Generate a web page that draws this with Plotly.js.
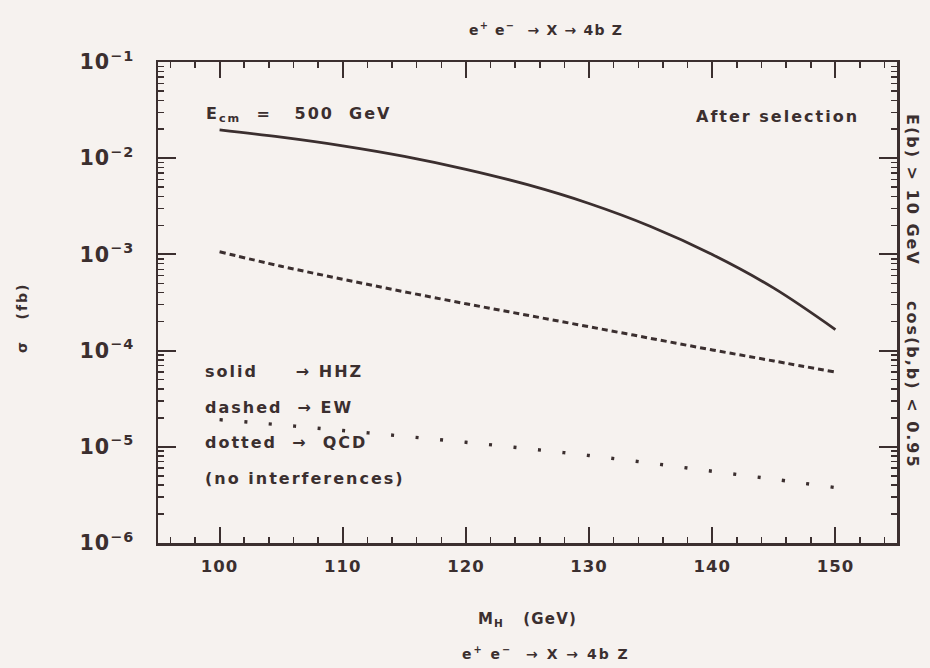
<!DOCTYPE html>
<html>
<head>
<meta charset="utf-8">
<script src="https://cdn.plot.ly/plotly-3.0.1.min.js"></script>
<style>
  html, body { margin: 0; padding: 0; background: #f6f2ef; }
  #chart { width: 930px; height: 668px; }
  .annotation-text { letter-spacing: 2px; }
  .gtitle, .xtitle, .ytitle { letter-spacing: 1.2px; }
  .xtick text, .ytick text { letter-spacing: 1px; }
</style>
</head>
<body>
<div id="chart"></div>
<script>
// Higgs mass (GeV)
const massH = [100, 105, 110, 115, 120, 125, 130, 135, 140, 145, 150];
// cross sections (fb)
const sigmaHHZ = [0.01968, 0.01656, 0.01346, 0.01045, 0.00766, 0.00530, 0.00338, 0.00195, 0.000998, 0.000446, 0.0001656];
const sigmaEW  = [0.001064, 0.000753, 0.000552, 0.000409, 0.000307, 0.000233, 0.000177, 0.000134, 0.0001016, 0.0000780, 0.0000598];
const sigmaQCD = [0.00001914, 0.00001687, 0.00001476, 0.00001285, 0.00001114, 0.00000957, 0.00000811, 0.00000675, 0.00000557, 0.00000460, 0.00000377];

const ink = '#3b2f2f';
const fontMain = 'DejaVu Sans, Arial, sans-serif';

const traces = [
  {x: massH, y: sigmaHHZ, mode: 'lines', name: 'HHZ', line: {color: ink, width: 2.8, shape: 'spline', smoothing: 1}},
  {x: massH, y: sigmaEW, mode: 'lines', name: 'EW', line: {color: ink, width: 3, dash: '6px,4px', shape: 'spline', smoothing: 1}},
  {x: massH, y: sigmaQCD, mode: 'lines', name: 'QCD', line: {color: ink, width: 3.4, dash: '3px,21.6px', shape: 'spline', smoothing: 1}}
];

const px = v => (v - 158) / 739;
const py = v => (543 - v) / 481;
const tfont = {family: fontMain, size: 16, color: ink, weight: 'bold'};
const procLabel = 'e<sup>+</sup> e<sup>\u2212</sup>  \u2192 X \u2192 4b Z';

const layout = {
  width: 930, height: 668,
  margin: {l: 158, r: 33, t: 62, b: 125},
  paper_bgcolor: '#f6f2ef',
  plot_bgcolor: '#f6f2ef',
  showlegend: false,
  font: {family: fontMain, color: ink, weight: 'bold'},
  title: {
    text: procLabel,
    font: {family: fontMain, size: 14, color: ink, weight: 'bold'},
    x: px(546), xanchor: 'center', xref: 'paper',
    y: 1 - 30 / 668, yanchor: 'middle', yref: 'container'
  },
  xaxis: {
    range: [95, 155],
    tickvals: [100, 110, 120, 130, 140, 150],
    ticks: 'inside', ticklen: 16, tickwidth: 2, tickcolor: ink,
    minor: {dtick: 2, tick0: 0, ticks: 'inside', ticklen: 6, tickwidth: 1.5, tickcolor: ink},
    showline: true, linecolor: ink, linewidth: 2.5, mirror: 'allticks',
    showgrid: false, zeroline: false,
    tickfont: {family: fontMain, size: 16.5, color: ink, weight: 'bold'},
    ticklabelstandoff: 7,
    title: {text: 'M<sub>H</sub>   (GeV)', font: {family: fontMain, size: 15, color: ink, weight: 'bold'}, standoff: 38}
  },
  yaxis: {
    type: 'log',
    range: [-6, -1],
    dtick: 1,
    exponentformat: 'power',
    ticks: 'inside', ticklen: 18, tickwidth: 2, tickcolor: ink,
    minor: {dtick: 'D1', ticks: 'inside', ticklen: 6, tickwidth: 1.5, tickcolor: ink},
    showline: true, linecolor: ink, linewidth: 2.5, mirror: 'allticks',
    showgrid: false, zeroline: false,
    tickfont: {family: fontMain, size: 16.5, color: ink, weight: 'bold'},
    ticklabelstandoff: 18
  },
  annotations: [
    {text: '\u03c3   (fb)', x: px(22), y: py(318), xref: 'paper', yref: 'paper', xanchor: 'center', yanchor: 'middle', textangle: -90, showarrow: false, font: {family: fontMain, size: 14, color: ink, weight: 'bold'}},
    {text: 'E<sub>cm</sub>  =   500  GeV', x: px(204), y: py(114), xref: 'paper', yref: 'paper', xanchor: 'left', yanchor: 'middle', showarrow: false, font: tfont},
    {text: 'After selection', x: px(861), y: py(117), xref: 'paper', yref: 'paper', xanchor: 'right', yanchor: 'middle', showarrow: false, font: tfont},
    {text: 'solid     \u2192 HHZ', x: px(203), y: py(372), xref: 'paper', yref: 'paper', xanchor: 'left', yanchor: 'middle', showarrow: false, font: tfont},
    {text: 'dashed  \u2192 EW', x: px(203), y: py(407), xref: 'paper', yref: 'paper', xanchor: 'left', yanchor: 'middle', showarrow: false, font: tfont},
    {text: 'dotted  \u2192  QCD', x: px(203), y: py(442), xref: 'paper', yref: 'paper', xanchor: 'left', yanchor: 'middle', showarrow: false, font: tfont},
    {text: '(no interferences)', x: px(203), y: py(478), xref: 'paper', yref: 'paper', xanchor: 'left', yanchor: 'middle', showarrow: false, font: tfont},
    {text: 'E(b) > 10 GeV', x: px(913), y: py(190), xref: 'paper', yref: 'paper', xanchor: 'center', yanchor: 'middle', textangle: 90, showarrow: false, font: tfont},
    {text: 'cos(b,b) < 0.95', x: px(913), y: py(385), xref: 'paper', yref: 'paper', xanchor: 'center', yanchor: 'middle', textangle: 90, showarrow: false, font: tfont},
    {text: procLabel, x: px(546), y: py(653), xref: 'paper', yref: 'paper', xanchor: 'center', yanchor: 'middle', showarrow: false, font: {family: fontMain, size: 14, color: ink, weight: 'bold'}}
  ]
};

Plotly.newPlot('chart', traces, layout, {displayModeBar: false, staticPlot: true});
</script>
</body>
</html>
